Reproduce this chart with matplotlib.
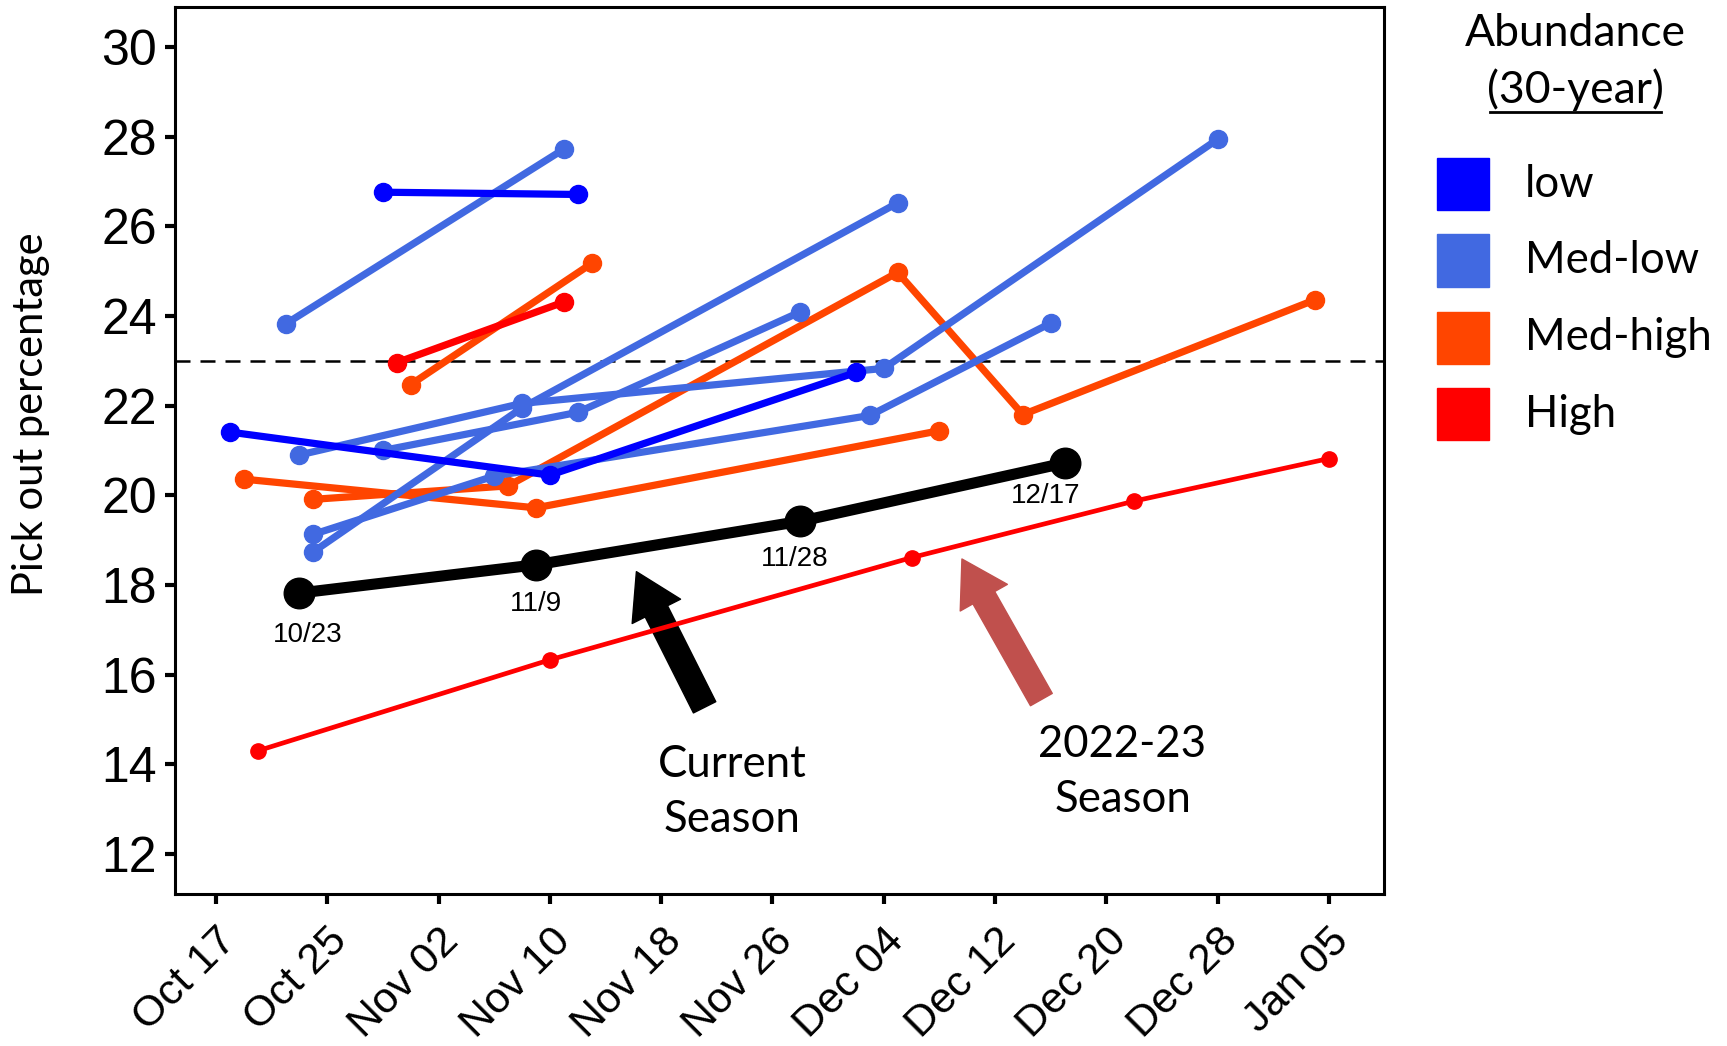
import numpy as np
import pandas as pd
import matplotlib
matplotlib.use('Agg')
from matplotlib import pyplot as plt
import matplotlib.dates as mdates
from matplotlib.patches import Rectangle
from matplotlib.lines import Line2D

# --- data ------------------------------------------------------------------
abundance = ['low', 'Med-low', 'Med-high', 'High']
colours = {'low': '#0000FF', 'Med-low': '#4169E1',
           'Med-high': '#FF4500', 'High': '#FF0000'}

# past seasons: (abundance class, dates, pick out %)
past_seasons = [
    ('Med-high', ['2023-10-24', '2023-11-07', '2023-12-05', '2023-12-14', '2024-01-04'],
     [19.91, 20.21, 24.97, 21.80, 24.36]),
    ('Med-high', ['2023-10-19', '2023-11-09', '2023-12-08'], [20.36, 19.72, 21.44]),
    ('Med-high', ['2023-10-31', '2023-11-13'], [22.47, 25.17]),
    ('Med-low', ['2023-10-22', '2023-11-11'], [23.82, 27.72]),
    ('Med-low', ['2023-10-23', '2023-11-08', '2023-12-04', '2023-12-28'],
     [20.90, 22.05, 22.83, 27.94]),
    ('Med-low', ['2023-10-24', '2023-11-08', '2023-12-05'], [18.74, 21.95, 26.52]),
    ('Med-low', ['2023-10-29', '2023-11-12', '2023-11-28'], [21.00, 21.85, 24.09]),
    ('Med-low', ['2023-10-24', '2023-11-06', '2023-12-03', '2023-12-16'],
     [19.13, 20.43, 21.78, 23.84]),
    ('low', ['2023-10-29', '2023-11-12'], [26.76, 26.71]),
    ('low', ['2023-10-18', '2023-11-10', '2023-12-02'], [21.41, 20.45, 22.74]),
    ('High', ['2023-10-30', '2023-11-11'], [22.96, 24.31]),
]

# 2022-23 season (High)
last_dates = ['2023-10-20', '2023-11-10', '2023-12-06', '2023-12-22', '2024-01-05']
last_values = [14.30, 16.33, 18.61, 19.87, 20.82]

# current season
current_dates = ['2023-10-23', '2023-11-09', '2023-11-28', '2023-12-17']
current_values = [17.82, 18.45, 19.42, 20.72]
current_labels = ['10/23', '11/9', '11/28', '12/17']

threshold = 23
tick_dates = pd.date_range('2023-10-17', '2024-01-05', freq='8D')
y_ticks = np.arange(12, 31, 2)

# --- layout -----------------------------------------------------------------
label_offsets = [(6, -30), (0, -28), (-4, -27), (-14, -24)]
arrow_style = 'simple,head_length=3.2,head_width=3.9,tail_width=1.8'

fig = plt.figure(figsize=(17.27, 10.46), dpi=100)
ax = fig.add_axes([0.1013, 0.145, 0.70, 0.8487])

for cls, d, v in past_seasons:
    ax.plot(pd.to_datetime(d), v, '-o', color=colours[cls], lw=5.2, ms=13, zorder=3)

ax.plot(pd.to_datetime(last_dates), last_values, '-o', color=colours['High'],
        lw=3.4, ms=11, zorder=4)
ax.plot(pd.to_datetime(current_dates), current_values, '-o', color='black',
        lw=8, ms=22, zorder=5)

for d, v, lab, off in zip(current_dates, current_values, current_labels, label_offsets):
    ax.annotate(lab, xy=(pd.Timestamp(d), v), xytext=off, textcoords='offset points',
                ha='center', va='center', fontsize=20, family='Liberation Sans')

ax.axhline(threshold, color='black', lw=1.8, ls=(0, (6, 4)), zorder=2)

all_dates = pd.to_datetime(sum([d for _, d, _ in past_seasons], []) + last_dates + current_dates)
span = all_dates.max() - all_dates.min()
ax.set_xlim(all_dates.min() - span * 0.05, all_dates.max() + span * 0.05)
ax.set_ylim(11.1, 30.9)

ax.set_xticks(tick_dates)
ax.xaxis.set_major_formatter(mdates.DateFormatter('%b %d'))
ax.set_yticks(y_ticks)
for lab in ax.get_xticklabels():
    lab.set_rotation(45)
    lab.set_ha('right')
    lab.set_rotation_mode('anchor')
    lab.set_family('Liberation Sans')
    lab.set_fontsize(31)
for lab in ax.get_yticklabels():
    lab.set_family('Liberation Sans')
    lab.set_fontsize(36)
ax.tick_params(direction='out', length=7, width=3)
ax.tick_params(axis='x', pad=12)
ax.tick_params(axis='y', pad=6)
for s in ax.spines.values():
    s.set_linewidth(2.2)

fig.text(0.018, 0.604, 'Pick out percentage', rotation=90, ha='center', va='center',
         fontsize=30, family='Lato')

# arrows + captions
ax.annotate('', xy=(0.3685, 0.4535), xytext=(0.4080, 0.3238), xycoords='figure fraction',
            arrowprops=dict(arrowstyle=arrow_style, color='black', mutation_scale=10,
                            shrinkA=0, shrinkB=0))
ax.annotate('', xy=(0.5570, 0.4656), xytext=(0.6030, 0.3312), xycoords='figure fraction',
            arrowprops=dict(arrowstyle=arrow_style, color='#C0504D', mutation_scale=10,
                            shrinkA=0, shrinkB=0))
fig.text(0.4240, 0.2425, 'Current\nSeason', ha='center', va='center', fontsize=31.5,
         family='Lato', linespacing=1.42)
fig.text(0.6500, 0.2620, '2022-23\nSeason', ha='center', va='center', fontsize=31.5,
         family='Lato', linespacing=1.42)

# legend drawn by hand
fig.text(0.9120, 0.968, 'Abundance', ha='center', va='center', fontsize=32, family='Lato')
fig.text(0.9120, 0.914, '(30-year)', ha='center', va='center', fontsize=32, family='Lato')
fig.add_artist(Line2D([0.8625, 0.9615], [0.893, 0.893], color='black', lw=2))
legend_y = [0.824, 0.751, 0.677, 0.604]
for cls, yc in zip(abundance, legend_y):
    fig.add_artist(Rectangle((0.8320, yc - 0.025), 0.0301, 0.050,
                             transform=fig.transFigure, color=colours[cls]))
    fig.text(0.8830, yc, cls, ha='left', va='center', fontsize=31.5, family='Lato')

fig.savefig('out.png', dpi=100)
